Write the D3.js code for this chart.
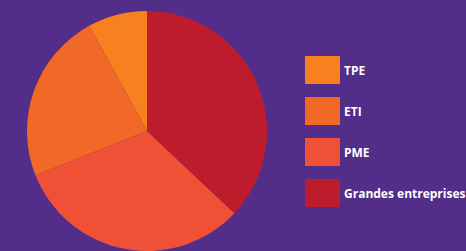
<!DOCTYPE html>
<html>
<head>
    <script src="https://d3js.org/d3.v7.min.js"></script>
    <style>
        html, body { margin: 0; padding: 0; background: #522d89; }
    </style>
</head>
<body>
<script>
const categories = ['TPE', 'ETI', 'PME', 'Grandes entreprises'];
const values = [8, 23, 32, 37];
const colors = ['#f7811f', '#f26827', '#ef5036', '#bd1c2c'];

const width = 466;
const height = 251;
const cx = 147, cy = 131, radius = 120;

const data = categories.map((c, i) => ({ name: c, value: values[i] }));

const color = d3.scaleOrdinal()
    .domain(categories)
    .range(colors);

const pie = d3.pie()
    .sort(null)
    .value(d => d.value)
    .startAngle(0)
    .endAngle(-2 * Math.PI);

const arc = d3.arc()
    .innerRadius(0)
    .outerRadius(radius);

let svg = d3.select('body').append('svg')
    .attr('width', width)
    .attr('height', height)
    .style('display', 'block');

svg.append('rect')
    .attr('width', width)
    .attr('height', height)
    .attr('fill', '#522d89');

svg.append('g')
    .attr('transform', `translate(${cx}, ${cy})`)
    .selectAll('path')
    .data(pie(data))
    .join('path')
    .attr('fill', d => color(d.data.name))
    .attr('d', arc);

const legendY = d3.scaleBand()
    .domain(categories)
    .range([56, 56 + 41 * categories.length])
    .paddingInner(0);

const legend = svg.append('g')
    .selectAll('g')
    .data(categories)
    .join('g')
    .attr('transform', d => `translate(305, ${legendY(d)})`);

legend.append('rect')
    .attr('width', 35)
    .attr('height', 28)
    .attr('fill', d => color(d));

legend.append('text')
    .attr('x', 39)
    .attr('y', 15)
    .attr('dy', '0.35em')
    .attr('fill', '#ffffff')
    .style('font-family', '"Open Sans", sans-serif')
    .style('font-weight', 'bold')
    .style('font-size', '12px')
    .text(d => d);
</script>
</body>
</html>
